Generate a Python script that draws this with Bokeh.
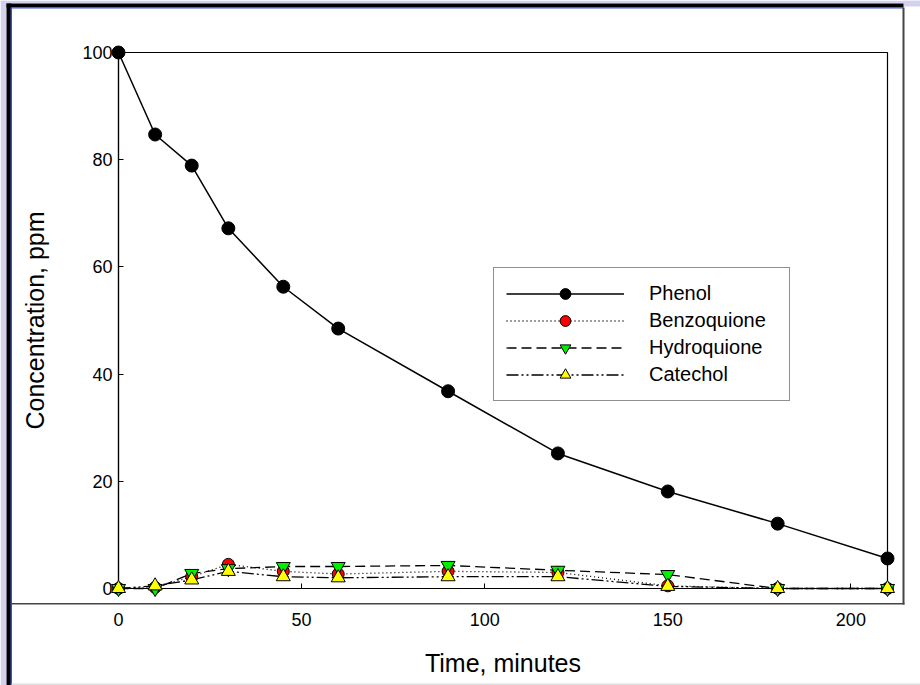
from bokeh.plotting import figure
from bokeh.models import Range1d, Legend, LegendItem, BoxAnnotation, FixedTicker
from bokeh.embed import file_html
from bokeh.resources import INLINE

# ---- data ----
time_min = [0, 10, 20, 30, 45, 60, 90, 120, 150, 180, 210]
phenol = [100, 84.7, 78.9, 67.2, 56.3, 48.5, 36.8, 25.2, 18.1, 12.1, 5.6]
benzoquione = [0, 0.2, 2.2, 4.5, 3.2, 2.7, 3.2, 3.0, 0.5, 0, 0]
hydroquione = [0, 0, 2.8, 3.7, 4.1, 4.1, 4.3, 3.4, 2.6, 0, 0]
catechol = [0, 0.5, 1.6, 3.2, 2.2, 2.0, 2.2, 2.2, 0.4, 0, 0]
x_ticks = [0, 50, 100, 150, 200]
y_ticks = [0, 20, 40, 60, 80, 100]
x_limits = (0, 210)
y_limits = (0, 100)

FONT = "Liberation Sans"

# ---- layout (pixels) ----
W, H = 920, 685
AX_LEFT, AX_RIGHT, AX_TOP, AX_BOTTOM = 118, 887, 52, 588
kx = (AX_RIGHT - AX_LEFT) / (x_limits[1] - x_limits[0])
ky = (AX_BOTTOM - AX_TOP) / (y_limits[1] - y_limits[0])
x_range = Range1d(x_limits[0] - AX_LEFT / kx, x_limits[1] + (W - AX_RIGHT) / kx)
y_range = Range1d(y_limits[0] - (H - AX_BOTTOM) / ky, y_limits[1] + AX_TOP / ky)

p = figure(width=W, height=H, x_range=x_range, y_range=y_range,
           output_backend="svg", toolbar_location=None,
           min_border=0, min_border_left=0, min_border_right=0,
           min_border_top=0, min_border_bottom=0)
p.border_fill_color = "white"
p.background_fill_color = "white"
p.outline_line_color = None
p.xgrid.visible = False
p.ygrid.visible = False

# axes drawn at the data origin, limited to the data box
p.xaxis.fixed_location = y_limits[0]
p.yaxis.fixed_location = x_limits[0]
p.xaxis.bounds = x_limits
p.yaxis.bounds = y_limits
p.xaxis.ticker = FixedTicker(ticks=x_ticks)
p.yaxis.ticker = FixedTicker(ticks=y_ticks)
for ax in (p.xaxis, p.yaxis):
    ax.level = "underlay"
    ax.axis_line_color = "black"
    ax.axis_line_width = 1.2
    ax.major_tick_in = 5
    ax.major_tick_out = 0
    ax.minor_tick_line_color = None
    ax.major_tick_line_color = "black"
    ax.major_label_text_font = FONT
    ax.major_label_text_font_size = "18px"
    ax.major_label_text_color = "black"
    ax.axis_label_text_font = FONT
    ax.axis_label_text_font_size = "25px"
    ax.axis_label_text_font_style = "normal"
    ax.axis_label_text_color = "black"
p.xaxis.axis_label = "Time, minutes"
p.yaxis.axis_label = "Concentration, ppm"
p.xaxis.major_label_standoff = 24
p.xaxis.axis_label_standoff = 20
p.yaxis.major_label_standoff = 6
p.yaxis.axis_label_standoff = 30

# page decorations (window edges), canvas pixels
def band(l, r, t, b, color):
    return BoxAnnotation(left=l, right=r, top=t, bottom=b,
                         left_units="canvas", right_units="canvas",
                         top_units="canvas", bottom_units="canvas",
                         fill_color=color, fill_alpha=1, line_color=None, line_alpha=0,
                         level="underlay")

for bx in [
    band(0, 920, 0, 3, "#d2d2ee"),
    band(903, 920, 0, 6, "#d2d2ee"),
    band(0, 6, 0, 685, "#d2d2ee"),
    band(6, 903, 3, 7, "black"),
    band(6, 11, 3, 685, "black"),
    band(11, 903, 7, 8, "#3355cc"),
    band(10, 11.5, 7, 685, "#3355cc"),
    band(902, 904, 7, 604, "#444444"),
    band(11, 904, 602.5, 604, "#444444"),
    band(11, 920, 683, 685, "#dddddd"),
]:
    p.add_layout(bx)

# data box (top and right edges)
p.add_layout(BoxAnnotation(left=x_limits[0], right=x_limits[1], bottom=y_limits[0], top=y_limits[1],
                           fill_alpha=0, line_color="black", line_alpha=1, line_width=1.2,
                           level="underlay"))

# series
r_ph_l = p.line(time_min, phenol, line_color="black", line_width=1.5)
r_ph_m = p.scatter(time_min, phenol, marker="circle", size=13, fill_color="black", line_color="black")

r_bz_l = p.line(time_min, benzoquione, line_color="black", line_width=1.3, line_dash="1 3")
r_bz_m = p.scatter(time_min, benzoquione, marker="circle", size=12, fill_color="#ff0000", line_color="black", line_width=1)

r_hq_l = p.line(time_min, hydroquione, line_color="black", line_width=1.3, line_dash="10 5")
r_hq_m = p.scatter(time_min, hydroquione, marker="inverted_triangle", size=14, fill_color="#00ee00", line_color="black", line_width=1)

r_ct_l = p.line(time_min, catechol, line_color="black", line_width=1.3, line_dash="12 3 2 3 2 3")
r_ct_m = p.scatter(time_min, catechol, marker="triangle", size=14, fill_color="#ffff00", line_color="black", line_width=1)

legend = Legend(items=[
    LegendItem(label="Phenol", renderers=[r_ph_l, r_ph_m]),
    LegendItem(label="Benzoquione", renderers=[r_bz_l, r_bz_m]),
    LegendItem(label="Hydroquione", renderers=[r_hq_l, r_hq_m]),
    LegendItem(label="Catechol", renderers=[r_ct_l, r_ct_m]),
], location=(493, H - 401))
legend.border_line_color = "#222222"
legend.border_line_width = 1
legend.background_fill_color = "white"
legend.background_fill_alpha = 1
legend.padding = 12
legend.spacing = 0
legend.margin = 0
legend.glyph_width = 118
legend.glyph_height = 27
legend.label_height = 27
legend.label_width = 128
legend.label_standoff = 25
legend.label_text_font = FONT
legend.label_text_font_size = "20px"
legend.label_text_color = "black"
p.add_layout(legend)

open("out.html", "w").write(file_html(p, INLINE))
